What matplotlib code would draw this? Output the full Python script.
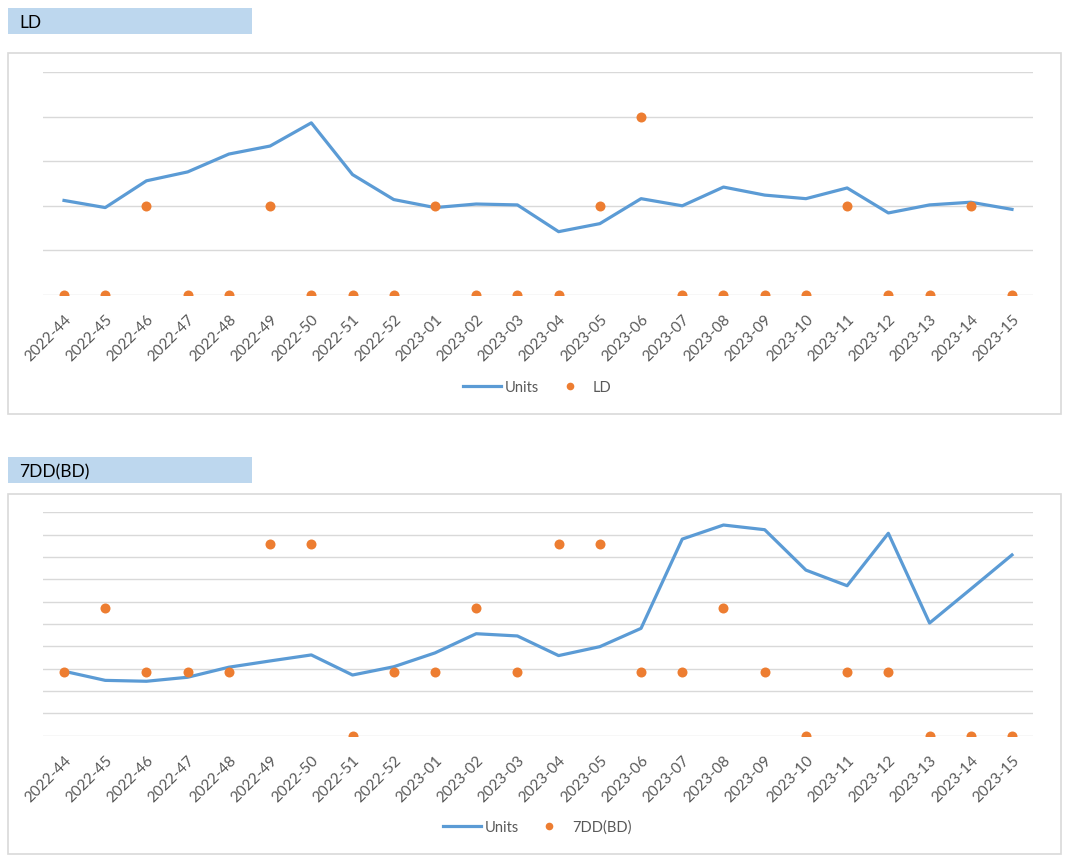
import matplotlib
matplotlib.use("Agg")
import matplotlib.pyplot as plt
from matplotlib.patches import Rectangle
from matplotlib.lines import Line2D

plt.rcParams['font.family'] = ['Lato', 'DejaVu Sans']

weeks = ["2022-44", "2022-45", "2022-46", "2022-47", "2022-48", "2022-49", "2022-50",
         "2022-51", "2022-52", "2023-01", "2023-02", "2023-03", "2023-04", "2023-05",
         "2023-06", "2023-07", "2023-08", "2023-09", "2023-10", "2023-11", "2023-12",
         "2023-13", "2023-14", "2023-15"]

units_ld = [106, 98, 128, 138, 158, 167, 193, 135, 107, 98, 102, 101,
            71, 80, 108, 100, 121, 112, 108, 120, 92, 101, 104, 96]
ld = [0, 0, 1, 0, 0, 1, 0, 0, 0, 1, 0, 0, 0, 1, 2, 0, 0, 0, 0, 1, 0, 0, 1, 0]

units_7dd = [288, 247, 243, 261, 306, 334, 361, 271, 308, 370, 456, 446,
             358, 398, 480, 880, 943, 922, 741, 671, 906, 504, 656, 809]
dd7 = [1, 2, 1, 1, 1, 3, 3, 0, 1, 1, 2, 1, 3, 3, 1, 1, 2, 1, 0, 1, 1, 0, 0, 0]

W, H = 1080, 862
fig = plt.figure(figsize=(W / 100, H / 100), dpi=100)

LINE_C = "#5B9BD5"
DOT_C = "#ED7D31"
GRID_C = "#D9D9D9"
TXT_C = "#595959"


def fx(x):
    return x / W


def fy(y):
    return 1 - y / H


def panel(title, box_top, border_top, border_bot, plot_top, plot_bot, units, dots,
          ymax, nint, y2max, dot_label, legend_y):
    # title box
    fig.patches.append(Rectangle((fx(8), fy(box_top + 26)), fx(244), 26 / H,
                                 transform=fig.transFigure, facecolor="#BDD7EE",
                                 edgecolor="none"))
    fig.text(fx(19), fy(box_top + 14), title, fontsize=12.5, color="black",
             va="center", ha="left")
    # chart border
    fig.patches.append(Rectangle((fx(8), fy(border_bot)), fx(1053),
                                 (border_bot - border_top) / H,
                                 transform=fig.transFigure, facecolor="none",
                                 edgecolor=GRID_C, linewidth=1.2))
    x0, x1 = 43.4, 1032.6
    ax = fig.add_axes([fx(x0), fy(plot_bot), fx(x1 - x0), (plot_bot - plot_top) / H])
    ax.set_facecolor("none")
    xs = list(range(len(weeks)))
    ax.set_xlim(-0.5, len(weeks) - 0.5)
    ax.set_ylim(0, ymax)
    ax.set_yticks([ymax * i / nint for i in range(nint + 1)])
    ax.grid(axis="y", color=GRID_C, linewidth=1.0)
    ax.set_axisbelow(True)
    for s in ax.spines.values():
        s.set_visible(False)
    ax.set_xticks(xs)
    ax.set_xticklabels(weeks, rotation=45, ha="right", va="top",
                       rotation_mode="anchor")
    ax.plot(xs, units, color=LINE_C, linewidth=2.3, solid_joinstyle="round",
            zorder=3, label="Units")
    ax2 = ax.twinx()
    ax2.set_ylim(0, y2max)
    ax2.axis("off")
    ax2.plot(xs, dots, linestyle="none", marker="o", markersize=7.2,
             color=DOT_C, markeredgewidth=0, zorder=4, label=dot_label)
    ax.tick_params(axis="y", left=False, right=False, labelleft=False,
                   labelright=False, length=0)
    ax.tick_params(axis="x", length=0, pad=12, colors=TXT_C, labelsize=11)
    h1 = Line2D([], [], color=LINE_C, linewidth=2.3)
    h2 = Line2D([], [], linestyle="none", marker="o", markersize=5.5,
                color=DOT_C, markeredgewidth=0)
    fig.legend([h1, h2], ["Units", dot_label], loc="center",
               bbox_to_anchor=(fx(537), fy(legend_y)), ncol=2, frameon=False,
               fontsize=10.5, labelcolor=TXT_C, handlelength=2.6,
               handletextpad=0.25, columnspacing=0.8)


panel("LD", 9, 54, 415, 73, 296, units_ld, ld, 250, 5, 2.5, "LD", 388)
panel("7DD(BD)", 458, 495, 855, 513.3, 736.5, units_7dd, dd7, 1000, 10, 3.5,
      "7DD(BD)", 828)

fig.savefig("out.png", dpi=100)
